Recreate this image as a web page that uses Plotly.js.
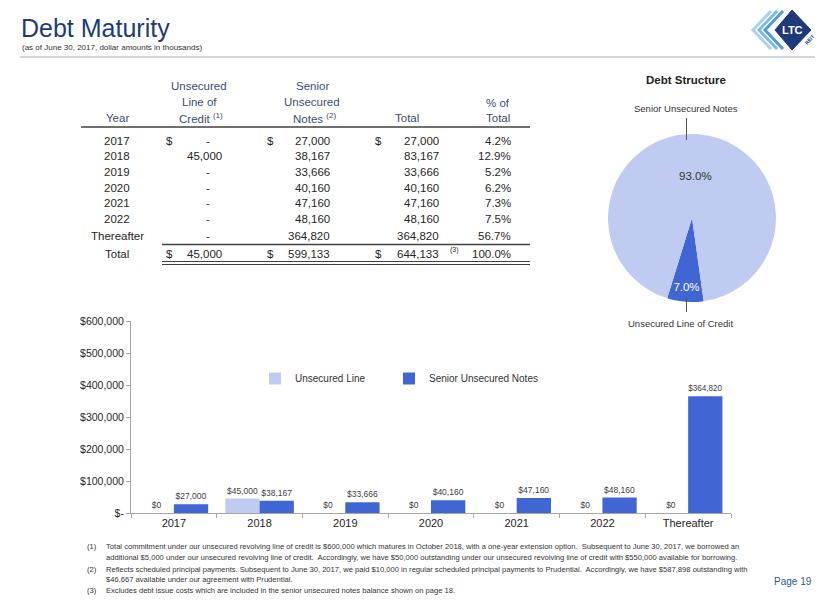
<!DOCTYPE html>
<html>
<head>
<meta charset="utf-8">
<script src="https://cdn.plot.ly/plotly-3.0.1.min.js"></script>
<style>
  html, body { margin: 0; padding: 0; background: #ffffff; }
  #chart { width: 830px; height: 604px; }
</style>
</head>
<body>
<div id="chart"></div>
<script>
// ---------------- DATA ----------------
const years = ['2017', '2018', '2019', '2020', '2021', '2022', 'Thereafter'];
const unsecuredLine = [0, 45000, 0, 0, 0, 0, 0];
const seniorNotes = [27000, 38167, 33666, 40160, 47160, 48160, 364820];
const rowTotals = [27000, 83167, 33666, 40160, 47160, 48160, 364820];
const pctOfTotal = [4.2, 12.9, 5.2, 6.2, 7.3, 7.5, 56.7];
const totalLine = 45000;
const totalSenior = 599133;
const grandTotal = 644133;
const totalPct = 100.0;

const pieLabels = ['Unsecured Line of Credit', 'Senior Unsecured Notes'];
const pieValues = [45000, 599133];

const yTickVals = [0, 100000, 200000, 300000, 400000, 500000, 600000];
const yTickText = ['$-', '$100,000', '$200,000', '$300,000', '$400,000', '$500,000', '$600,000'];

const seriesNames = ['Unsecured Line', 'Senior Unsecured Notes'];

const footnotes = [
  ['(1)', 'Total commitment under our unsecured revolving line of credit is $600,000 which matures in October 2018, with a one-year extension option.  Subsequent to June 30, 2017, we borrowed an'],
  ['', 'additional $5,000 under our unsecured revolving line of credit.  Accordingly, we have $50,000 outstanding under our unsecured revolving line of credit with $550,000 available for borrowing.'],
  ['(2)', 'Reflects scheduled principal payments. Subsequent to June 30, 2017, we paid $10,000 in regular scheduled principal payments to Prudential.  Accordingly, we have $587,898 outstanding with'],
  ['', '$46,667 available under our agreement with Prudential.'],
  ['(3)', 'Excludes debt issue costs which are included in the senior unsecured notes balance shown on page 18.']
];

// ---------------- STYLE ----------------
const W = 830, H = 604;
const px = x => x / W;
const py = y => 1 - y / H;
const FONT = 'Liberation Sans, Arial, sans-serif';
const NARROW = 'Liberation Sans Narrow, Arial Narrow, Liberation Sans, sans-serif';
const LIGHT = '#BFCBF0';
const DARK = '#4066D4';
const NAVY = '#1F3A78';
const HEAD = '#3E4C6E';
const TXT = '#262626';

const annotations = [];
const shapes = [];

function ann(text, x, y, o) {
  o = o || {};
  annotations.push({
    text: text, x: px(x), y: py(y), xref: 'paper', yref: 'paper',
    xanchor: o.xa || 'center', yanchor: o.ya || 'middle', showarrow: false,
    textangle: o.angle || 0,
    font: { family: o.family || FONT, size: o.size || 11.5, color: o.color || TXT, weight: o.weight || 'normal' }
  });
}
function line(x0, y0, x1, y1, color, width) {
  shapes.push({ type: 'line', xref: 'paper', yref: 'paper', x0: px(x0), y0: py(y0), x1: px(x1), y1: py(y1),
    line: { color: color, width: width } });
}
function path(pts, fill, lineColor, lw, closed) {
  let d = pts.map((p, i) => (i ? 'L' : 'M') + px(p[0]) + ',' + py(p[1])).join(' ');
  if (closed) d += ' Z';
  shapes.push({ type: 'path', xref: 'paper', yref: 'paper', path: d, fillcolor: fill || 'rgba(0,0,0,0)',
    line: { color: lineColor || 'rgba(0,0,0,0)', width: lw || 0 } });
}
const fmt = v => v.toLocaleString('en-US');

// ---- Title ----
ann('Debt Maturity', 19, 28, { xa: 'left', size: 25, color: NAVY });
ann('(as of June 30, 2017, dollar amounts in thousands)', 20, 47.5, { xa: 'left', size: 8, color: '#333333' });
line(20, 57, 815, 57, '#c8c8c8', 1.5);

// ---- Logo ----
[[753, '#a9d2f2'], [759, '#7fbbea'], [765, '#4f9be0']].forEach(c => {
  path([[c[0] + 18, 11], [c[0], 30], [c[0] + 18, 49]], null, c[1], 3, false);
});
path([[775, 30], [792, 10], [811, 30], [792, 50]], NAVY, NAVY, 1, true);
ann('<b>LTC</b>', 792.5, 30, { size: 11, color: '#ffffff' });
ann('<b>REIT</b>', 809, 40, { size: 5, color: NAVY, angle: -48 });

// ---- Table ----
const C = { year: 117, d1: 169, v1: 224, dash1: 212, d2: 270, v2: 332, d3: 378, v3: 441, pct: 513 };
ann('Unsecured', 199, 86, { color: HEAD });
ann('Line of', 199, 102, { color: HEAD });
ann('Credit <sup>(1)</sup>', 201, 118, { color: HEAD });
ann('Senior', 312, 86, { color: HEAD });
ann('Unsecured', 312, 102, { color: HEAD });
ann('Notes <sup>(2)</sup>', 314, 118, { color: HEAD });
ann('Year', C.year, 118, { color: HEAD });
ann('Total', 407, 118, { color: HEAD });
ann('% of', 498, 103, { color: HEAD });
ann('Total', 498, 118, { color: HEAD });
line(81, 127, 530, 127, '#404040', 1.5);

const rowY = [141, 156.5, 172, 188, 203.5, 219, 235.5];
years.forEach((yr, i) => {
  const y = rowY[i];
  ann(yr, C.year, y);
  if (i === 0) { ann('$', C.d1, y); ann('$', C.d2, y); ann('$', C.d3, y); }
  if (unsecuredLine[i] === 0) ann('-', C.dash1, y, { xa: 'right' });
  else ann(fmt(unsecuredLine[i]), C.v1, y, { xa: 'right' });
  ann(fmt(seniorNotes[i]), C.v2, y, { xa: 'right' });
  ann(fmt(rowTotals[i]), C.v3, y, { xa: 'right' });
  ann(pctOfTotal[i].toFixed(1) + '%', C.pct, y, { xa: 'right' });
});
line(162, 244.5, 530, 244.5, '#404040', 1.5);
const ty = 254;
ann('Total', C.year, ty);
ann('$', C.d1, ty); ann('$', C.d2, ty); ann('$', C.d3, ty);
ann(fmt(totalLine), C.v1, ty, { xa: 'right' });
ann(fmt(totalSenior), C.v2, ty, { xa: 'right' });
ann(fmt(grandTotal), C.v3, ty, { xa: 'right' });
ann('(3)', 448, 250, { xa: 'left', size: 7 });
ann(totalPct.toFixed(1) + '%', C.pct, ty, { xa: 'right' });
line(162, 261.5, 530, 261.5, '#404040', 1);
line(162, 264.5, 530, 264.5, '#404040', 1);

// ---- Pie decorations ----
ann('<b>Debt Structure</b>', 686, 80, { size: 11.5, color: '#222222' });
ann(pieLabels[1], 686, 108, { size: 9.5, color: '#333333' });
ann(pieLabels[0], 680, 323.5, { size: 9.5, color: '#333333' });
line(686.5, 118, 686.5, 140, '#555555', 1);
line(686.5, 298, 686.5, 312, '#555555', 1);

// ---- Footnotes ----
const fnY = [546, 557.5, 569, 579.5, 590.5];
footnotes.forEach((f, i) => {
  if (f[0]) ann(f[0], 85, fnY[i], { xa: 'left', size: 7.6, family: NARROW, color: '#333333' });
  ann(f[1], 104, fnY[i], { xa: 'left', size: 7.6, family: NARROW, color: '#333333' });
});
ann('Page 19', 793, 581, { size: 10, color: '#2F5597' });

// ---------------- TRACES ----------------
const barText = { family: FONT, size: 8.5, color: '#404040' };
const traces = [
  {
    type: 'bar', name: seriesNames[0], x: years, y: unsecuredLine, legend: 'legend',
    marker: { color: LIGHT }, texttemplate: '$%{y:,}', textposition: 'outside',
    textfont: barText, cliponaxis: false, hoverinfo: 'x+y'
  },
  {
    type: 'bar', name: seriesNames[1], x: years, y: seniorNotes, legend: 'legend2',
    marker: { color: DARK }, texttemplate: '$%{y:,}', textposition: 'outside',
    textfont: barText, cliponaxis: false, hoverinfo: 'x+y'
  },
  {
    type: 'pie', labels: pieLabels, values: pieValues, sort: false, direction: 'clockwise',
    rotation: 172, marker: { colors: [DARK, LIGHT], line: { width: 0 } },
    texttemplate: '%{percent:.1%}', textposition: 'inside', insidetextorientation: 'horizontal',
    insidetextfont: { family: FONT, size: 11.5, color: ['#ffffff', '#333333'] },
    showlegend: false, domain: { x: [px(608), px(776)], y: [py(302), py(134)] }
  }
];

const legendStyle = (x) => ({
  orientation: 'h', x: px(x), y: py(364), xanchor: 'left', yanchor: 'top',
  bgcolor: 'rgba(0,0,0,0)', font: { family: FONT, size: 10, color: '#333333' }
});

const layout = {
  width: W, height: H, autosize: false,
  margin: { l: 0, r: 0, t: 0, b: 0, pad: 0 },
  paper_bgcolor: '#ffffff', plot_bgcolor: 'rgba(0,0,0,0)',
  font: { family: FONT, color: TXT },
  barmode: 'group', bargap: 0.2, bargroupgap: 0,
  showlegend: true,
  legend: legendStyle(255),
  legend2: legendStyle(389),
  xaxis: {
    domain: [px(131), px(731)], type: 'category', showgrid: false, zeroline: false,
    showline: true, linecolor: '#a6a6a6', linewidth: 1,
    ticks: 'outside', tickson: 'boundaries', ticklen: 4, tickcolor: '#a6a6a6',
    tickfont: { family: FONT, size: 11, color: '#262626' }, fixedrange: true
  },
  yaxis: {
    domain: [py(513), py(321)], range: [0, 600000], showgrid: false, zeroline: false,
    showline: true, linecolor: '#a6a6a6', linewidth: 1,
    ticks: 'outside', ticklen: 4, tickcolor: '#a6a6a6',
    tickvals: yTickVals, ticktext: yTickText,
    tickfont: { family: FONT, size: 10.5, color: '#262626' }, fixedrange: true
  },
  annotations: annotations,
  shapes: shapes
};

Plotly.newPlot('chart', traces, layout, { staticPlot: true, displayModeBar: false, typesetMath: false });
</script>
</body>
</html>
